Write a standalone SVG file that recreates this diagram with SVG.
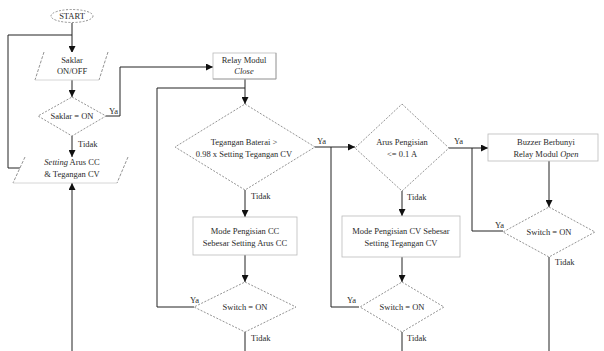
<svg xmlns="http://www.w3.org/2000/svg" width="604" height="351" viewBox="0 0 604 351">
<defs>
<marker id="ar" viewBox="0 0 8 8" refX="8" refY="4" markerWidth="7" markerHeight="7" markerUnits="userSpaceOnUse" orient="auto">
<path d="M0,0 L8,4 L0,8 z" fill="#111"/>
</marker>
<style>
.ln{stroke:#222;stroke-width:1;fill:none}
.arr{marker-end:url(#ar)}
.dia{stroke:#777;stroke-width:0.8;stroke-dasharray:2,1.5;fill:#fff}
.box{stroke:#bbb;stroke-width:0.8;fill:#fff}
.slant{stroke:#777;stroke-width:0.8;stroke-dasharray:3,1.5;fill:none}
.edge{stroke:#ccc;stroke-width:0.8;fill:none}
text{font-family:"Liberation Serif","Times New Roman",serif;font-size:8.5px;fill:#2a2a2a}
.c{text-anchor:middle}
.i{font-style:italic}
</style>
</defs>
<rect width="604" height="351" fill="#fff"/>
<g id="connectors">
<path class="ln arr" d="M72,23 V53"/>
<path class="ln" d="M21,168 H8 V35 H72"/>
<path class="ln arr" d="M72,80 V97"/>
<path class="ln arr" d="M72,136 V157"/>
<path class="ln arr" d="M106,116 H120 V67 H213"/>
<path class="ln arr" d="M72,351 V183"/>
<path class="ln arr" d="M245,79 V104"/>
<path class="ln" d="M194,307 H157 V88 H245"/>
<path class="ln arr" d="M245,190 V217"/>
<path class="ln arr" d="M245,255 V282"/>
<path class="ln" d="M245,332 V351"/>
<path class="ln arr" d="M315,147 H355"/>
<path class="ln" d="M331,147 V307 H359"/>
<path class="ln arr" d="M402,191 V216"/>
<path class="ln arr" d="M402,257 V282"/>
<path class="ln" d="M402,332 V351"/>
<path class="ln arr" d="M449,148 H488"/>
<path class="ln" d="M472,148 V231 H503"/>
<path class="ln arr" d="M549,161 V207"/>
<path class="ln" d="M549,257 V351"/>
<text x="109" y="114">Ya</text>
<text x="78" y="147">Tidak</text>
<text x="190" y="303">Ya</text>
<text x="251" y="199">Tidak</text>
<text x="251" y="341">Tidak</text>
<text x="317" y="144">Ya</text>
<text x="347" y="303">Ya</text>
<text x="407" y="200">Tidak</text>
<text x="407" y="341">Tidak</text>
<text x="454" y="144">Ya</text>
<text x="495" y="228">Ya</text>
<text x="555" y="265">Tidak</text>
</g>
<g id="start">
<ellipse cx="72" cy="16" rx="21" ry="6.5" class="dia"/>
<text x="72" y="19" class="c">START</text>
</g>
<g id="saklar-onoff">
<polygon points="44,52 108,52 99,80 35,80" fill="#fff"/>
<path class="slant" d="M44,52 L35,80 M108,52 L99,80"/>
<path class="edge" d="M35,80 H99"/>
<text x="72" y="63" class="c">Saklar</text>
<text x="72" y="74" class="c">ON/OFF</text>
</g>
<g id="saklar-on">
<polygon points="72,97 106,116 72,136 38,116" class="dia"/>
<text x="72" y="119" class="c">Saklar = ON</text>
</g>
<g id="setting">
<polygon points="25,157 128,157 117,183 13,183" fill="#fff"/>
<path class="slant" d="M25,157 L13,183 M128,157 L117,183"/>
<path class="edge" d="M13,183 H117"/>
<text x="72" y="165" class="c"><tspan class="i">Setting</tspan> Arus CC</text>
<text x="72" y="177" class="c">&amp; Tegangan CV</text>
</g>
<g id="relay-close">
<rect x="213" y="53" width="63" height="26" class="box" stroke="#ddd"/>
<path d="M276,53 V79 H213" stroke="#999" stroke-width="0.8" fill="none"/>
<text x="244" y="63" class="c">Relay Modul</text>
<text x="244" y="74" class="c i">Close</text>
</g>
<g id="cek-tegangan">
<polygon points="245,104 315,147 245,190 175,147" class="dia"/>
<text x="244" y="145" class="c">Tegangan Baterai &gt;</text>
<text x="244" y="157" class="c">0.98 x Setting Tegangan CV</text>
</g>
<g id="mode-cc">
<rect x="193" y="217" width="104" height="38" class="box"/>
<text x="245" y="234" class="c">Mode Pengisian CC</text>
<text x="245" y="246" class="c">Sebesar Setting Arus CC</text>
</g>
<g id="switch-1">
<polygon points="245,282 296,307 245,332 194,307" class="dia"/>
<text x="245" y="310" class="c">Switch = ON</text>
</g>
<g id="cek-arus">
<polygon points="402,104 449,148 402,191 355,148" class="dia"/>
<text x="402" y="145" class="c">Arus Pengisian</text>
<text x="402" y="157" class="c">&lt;= 0.1 A</text>
</g>
<g id="mode-cv">
<rect x="342" y="216" width="118" height="41" class="box"/>
<text x="401" y="234" class="c">Mode Pengisian CV  Sebesar</text>
<text x="401" y="246" class="c">Setting Tegangan CV</text>
</g>
<g id="switch-2">
<polygon points="402,282 444,307 402,332 360,307" class="dia"/>
<text x="402" y="310" class="c">Switch = ON</text>
</g>
<g id="buzzer">
<rect x="488" y="134" width="110" height="27" class="box" stroke="#ccc"/>
<text x="546" y="145" class="c">Buzzer Berbunyi</text>
<text x="546" y="157" class="c">Relay Modul <tspan class="i">Open</tspan></text>
</g>
<g id="switch-3">
<polygon points="549,207 595,232 549,257 503,232" class="dia"/>
<text x="549" y="235" class="c">Switch = ON</text>
</g>
</svg>
